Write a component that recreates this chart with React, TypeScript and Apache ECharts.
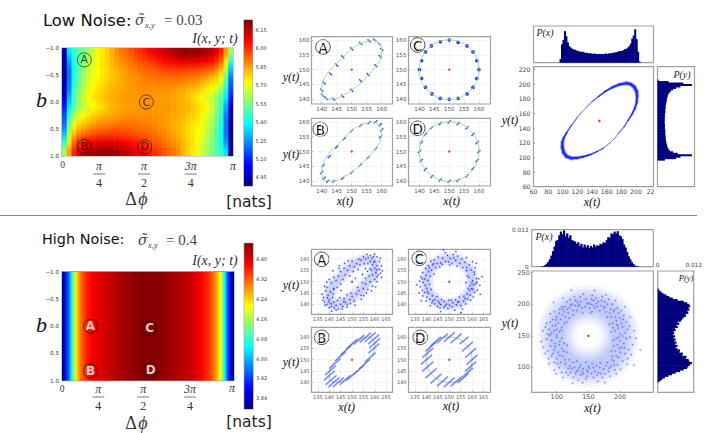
import React, { useRef, useEffect } from 'react';
import * as echarts from 'echarts';

// heatmap values, low noise: rows run from b = -1 (top) to b = 1, columns from 0 to pi
const lowNoiseInfo: number[][] = [
    [4.93, 5.35, 5.45, 5.5, 5.55, 5.6, 5.65, 5.7, 5.75, 5.78, 5.82, 5.87, 5.9, 5.92, 5.95, 5.98, 6.0, 6.03, 6.06, 6.08, 6.1, 6.12, 6.14, 6.16, 6.18, 6.2, 6.2, 6.2, 6.19, 6.18, 6.17, 6.15, 6.1, 6.02, 5.85, 5.6],
    [4.92, 5.25, 5.42, 5.5, 5.56, 5.62, 5.68, 5.73, 5.76, 5.79, 5.82, 5.85, 5.87, 5.89, 5.91, 5.93, 5.95, 5.97, 5.99, 6.01, 6.03, 6.05, 6.06, 6.08, 6.09, 6.1, 6.1, 6.1, 6.09, 6.08, 6.07, 6.05, 6.01, 5.93, 5.75, 5.45],
    [4.92, 5.2, 5.4, 5.5, 5.58, 5.64, 5.69, 5.72, 5.75, 5.77, 5.8, 5.82, 5.84, 5.86, 5.88, 5.89, 5.91, 5.92, 5.93, 5.94, 5.95, 5.96, 5.97, 5.97, 5.98, 5.98, 5.97, 5.97, 5.96, 5.95, 5.93, 5.91, 5.87, 5.8, 5.62, 5.3],
    [4.93, 5.2, 5.42, 5.52, 5.6, 5.66, 5.71, 5.74, 5.76, 5.78, 5.8, 5.82, 5.83, 5.85, 5.86, 5.87, 5.88, 5.89, 5.9, 5.9, 5.91, 5.91, 5.91, 5.91, 5.91, 5.9, 5.89, 5.88, 5.87, 5.85, 5.83, 5.8, 5.77, 5.7, 5.52, 5.2],
    [4.95, 5.22, 5.45, 5.55, 5.63, 5.69, 5.73, 5.76, 5.78, 5.8, 5.82, 5.83, 5.84, 5.85, 5.86, 5.86, 5.87, 5.87, 5.87, 5.87, 5.87, 5.87, 5.87, 5.86, 5.85, 5.84, 5.83, 5.82, 5.8, 5.78, 5.75, 5.72, 5.68, 5.6, 5.44, 5.15],
    [4.98, 5.28, 5.48, 5.58, 5.66, 5.71, 5.75, 5.78, 5.8, 5.82, 5.83, 5.84, 5.85, 5.86, 5.86, 5.86, 5.86, 5.87, 5.87, 5.86, 5.86, 5.85, 5.85, 5.84, 5.83, 5.82, 5.8, 5.77, 5.75, 5.72, 5.68, 5.64, 5.58, 5.5, 5.36, 5.08],
    [5.08, 5.36, 5.5, 5.58, 5.64, 5.68, 5.72, 5.75, 5.77, 5.8, 5.82, 5.83, 5.84, 5.85, 5.85, 5.86, 5.86, 5.87, 5.87, 5.86, 5.86, 5.86, 5.86, 5.85, 5.84, 5.83, 5.82, 5.8, 5.78, 5.75, 5.71, 5.66, 5.58, 5.48, 5.28, 4.98],
    [5.15, 5.44, 5.6, 5.68, 5.72, 5.75, 5.78, 5.8, 5.82, 5.83, 5.84, 5.85, 5.86, 5.87, 5.87, 5.87, 5.87, 5.87, 5.87, 5.87, 5.86, 5.86, 5.85, 5.84, 5.83, 5.82, 5.8, 5.78, 5.76, 5.73, 5.69, 5.63, 5.55, 5.45, 5.22, 4.95],
    [5.2, 5.52, 5.7, 5.77, 5.8, 5.83, 5.85, 5.87, 5.88, 5.89, 5.9, 5.91, 5.91, 5.91, 5.91, 5.91, 5.9, 5.9, 5.89, 5.88, 5.87, 5.86, 5.85, 5.83, 5.82, 5.8, 5.78, 5.76, 5.74, 5.71, 5.66, 5.6, 5.52, 5.42, 5.2, 4.93],
    [5.3, 5.62, 5.8, 5.87, 5.91, 5.93, 5.95, 5.96, 5.97, 5.97, 5.98, 5.98, 5.97, 5.97, 5.96, 5.95, 5.94, 5.93, 5.92, 5.91, 5.89, 5.88, 5.86, 5.84, 5.82, 5.8, 5.77, 5.75, 5.72, 5.69, 5.64, 5.58, 5.5, 5.4, 5.2, 4.92],
    [5.45, 5.75, 5.93, 6.01, 6.05, 6.07, 6.08, 6.09, 6.1, 6.1, 6.1, 6.09, 6.08, 6.06, 6.05, 6.03, 6.01, 5.99, 5.97, 5.95, 5.93, 5.91, 5.89, 5.87, 5.85, 5.82, 5.79, 5.76, 5.73, 5.68, 5.62, 5.56, 5.5, 5.42, 5.25, 4.92],
    [5.6, 5.85, 6.02, 6.1, 6.15, 6.17, 6.18, 6.19, 6.2, 6.2, 6.2, 6.18, 6.16, 6.14, 6.12, 6.1, 6.08, 6.06, 6.03, 6.0, 5.98, 5.95, 5.92, 5.9, 5.87, 5.82, 5.78, 5.75, 5.7, 5.65, 5.6, 5.55, 5.5, 5.45, 5.35, 4.93],
];

// high noise: hardly changes with b, so one row of columns
const highNoiseInfo: number[][] = [
    [3.83, 3.93, 4.07, 4.22, 4.30, 4.34, 4.37, 4.385, 4.395, 4.40, 4.41, 4.415, 4.42, 4.43, 4.435, 4.44, 4.445, 4.45, 4.455, 4.46, 4.46, 4.46, 4.46, 4.46, 4.455, 4.45, 4.445, 4.44, 4.435, 4.43, 4.425, 4.42, 4.41, 4.40, 4.39, 4.37, 4.35, 4.32, 4.27, 4.21, 4.05, 3.90, 3.82],
];

const jetColors = ['#00007f', '#0000ff', '#007fff', '#00ffff', '#7fff7f', '#ffff00', '#ff7f00', '#ff0000', '#7f0000'];

const lowColorTicks = [4.95, 5.1, 5.25, 5.4, 5.55, 5.7, 5.85, 6.0, 6.15];
const highColorTicks = [3.84, 3.92, 4.0, 4.08, 4.16, 4.24, 4.32, 4.4];
const bTicks = [-1, -0.5, 0, 0.5, 1];
const phaseTicks = [1, 2, 3];
const phaseFractions = [['π', '4'], ['π', '2'], ['3π', '4']];

// operating points on the heatmaps: [delta phi, b, name]
const lowMarkers: [number, number, string][] = [[0.41, -0.78, 'A'], [0.41, 0.82, 'B'], [1.55, 0, 'C'], [1.52, 0.83, 'D']];
const highMarkers: [number, number, string][] = [[0.52, 0, 'A'], [0.52, 0.82, 'B'], [1.6, 0.04, 'C'], [1.62, 0.81, 'D']];

const smallLowTicks = [140, 145, 150, 155, 160];
const smallHighTicks = [135, 140, 145, 150, 155, 160, 165];
const smallYTicks = [140, 145, 150, 155, 160];
const bigLowTicks = [60, 80, 100, 120, 140, 160, 180, 200, 220];
const bigHighTicks = [100, 150, 200];
const bigHighYTicks = [100, 150, 200, 250];

const center: [number, number][] = [[150, 150]];

// noiseless orbits
const orbitTilted: [number, number][] = [[157.5, 160], [159.2, 158.8], [160, 156.5], [159.5, 153.5], [157.5, 150.5], [154.5, 147], [151, 143.8], [147.5, 141.6], [144, 140.1], [141.5, 140.2], [140, 142.8], [140.5, 146], [143, 150], [146, 153], [150, 157], [153.5, 159], [157.5, 160]];
const orbitRound: [number, number][] = [[160, 150], [159.7, 152.6], [158.7, 155], [157.1, 157.1], [155, 158.7], [152.6, 159.7], [150, 160], [147.4, 159.7], [145, 158.7], [142.9, 157.1], [141.3, 155], [140.3, 152.6], [140, 150], [140.3, 147.4], [141.3, 145], [142.9, 142.9], [145, 141.3], [147.4, 140.3], [150, 140], [152.6, 140.3], [155, 141.3], [157.1, 142.9], [158.7, 145], [159.7, 147.4], [160, 150]];
const ringBig: [number, number][] = [[200, 150], [198.3, 162.9], [193.3, 175], [185.4, 185.4], [175, 193.3], [162.9, 198.3], [150, 200], [137.1, 198.3], [125, 193.3], [114.6, 185.4], [106.7, 175], [101.7, 162.9], [100, 150], [101.7, 137.1], [106.7, 125], [114.6, 114.6], [125, 106.7], [137.1, 101.7], [150, 100], [162.9, 101.7], [175, 106.7], [185.4, 114.6], [193.3, 125], [198.3, 137.1], [200, 150]];

// low noise samples
const lowSamplesA: [number, number][] = [[157.7, 160], [159.2, 158.7], [160, 156.8], [159.5, 154.4], [158, 151.3], [155.5, 148.3], [153, 146.2], [150, 143], [147, 141], [144, 140], [141.5, 140.3], [140.3, 141.3], [140, 143], [140.8, 145.5], [143, 148.5], [145, 151.5], [147, 154.3], [150, 157], [153, 158.8], [155.8, 159.7]];
const lowSamplesB: [number, number][] = [[155.8, 159.7], [158, 160], [159.5, 159], [160, 157.3], [159.6, 155], [158, 151], [155.5, 148], [153, 145.5], [150, 143], [147, 141], [144, 140], [142, 140], [140.8, 141], [140, 143], [140.5, 145.3], [142.5, 148.3], [145, 151.5], [147.5, 154.3], [150, 157], [153, 158.8]];
const lowSamplesC: [number, number][] = [[150, 160], [153, 159.2], [156, 158], [158, 156], [159.3, 153], [160, 150], [159.3, 147], [158, 144], [156, 141.8], [153, 140.3], [150, 140], [147, 140.3], [144.2, 141.8], [142, 144], [140.7, 147], [140, 150], [140.7, 153], [142, 156], [144, 158], [147, 159.4]];
const lowSamplesD: [number, number][] = [[150, 160], [153, 159.4], [156, 158], [158, 155.8], [159.4, 153], [160, 150], [159.4, 147], [158, 144.3], [156, 141.8], [153, 140.3], [150, 140], [147, 140.4], [144.2, 141.6], [142, 144], [140.6, 147], [140, 150], [140.6, 153], [142, 155.8], [144, 158], [147, 159.4]];

// big low noise orbit: [x, y, spread in px]
const lowOrbitBand: [number, number, number][] = [[187, 201.5, 3.5], [193, 200, 4], [198, 196, 4], [201, 190, 4], [201.5, 183, 3.6], [201, 175, 3], [198.5, 167, 2.6], [194, 158, 2.2], [189, 150, 1.7], [184, 142, 1.3], [177, 134, 1], [171, 126, 0.7], [164, 119.5, 0.6], [156, 113, 0.8], [147, 108, 1.2], [138, 104, 1.6], [128, 101, 2.2], [120, 99.5, 2.8], [112, 99, 3.4], [105, 101.5, 4], [101, 107, 4], [99.5, 114, 4], [99.5, 121, 3.6], [101.5, 127, 3], [105.5, 134, 2.2], [112, 144, 1.5], [119, 153.5, 1.1], [126, 162, 0.8], [133, 169.5, 0.6], [140, 176, 0.8], [148.5, 183, 1.2], [157, 189.5, 1.7], [167, 195.5, 2.2], [177, 199.5, 3], [187, 201.5, 3.5]];

// histograms, relative height per bin
const lowPx = [0, 0, 0, 0, 0, 0, 0, 0, 0, 0, 0, 0, 0, 0, 0, 0, 0, 0, 0.1, 0.5, 0.62, 0.86, 0.72, 0.55, 0.45, 0.41, 0.38, 0.36, 0.35, 0.33, 0.31, 0.31, 0.29, 0.3, 0.28, 0.27, 0.27, 0.25, 0.26, 0.25, 0.24, 0.25, 0.24, 0.23, 0.24, 0.23, 0.24, 0.23, 0.24, 0.25, 0.24, 0.25, 0.26, 0.26, 0.27, 0.28, 0.28, 0.3, 0.31, 0.32, 0.32, 0.34, 0.37, 0.38, 0.41, 0.45, 0.52, 0.66, 0.74, 0.91, 0.64, 0.3, 0.03, 0, 0, 0, 0, 0, 0, 0, 0, 0];
const lowPy = [0, 0, 0, 0, 0, 0, 0, 0, 0, 0, 0, 0, 0, 0, 0, 0, 0, 0, 0.2, 0.5, 0.62, 0.93, 0.55, 0.42, 0.33, 0.3, 0.28, 0.26, 0.26, 0.24, 0.24, 0.23, 0.22, 0.22, 0.22, 0.21, 0.21, 0.21, 0.21, 0.2, 0.2, 0.2, 0.2, 0.19, 0.19, 0.2, 0.19, 0.2, 0.2, 0.2, 0.21, 0.21, 0.21, 0.22, 0.22, 0.22, 0.23, 0.24, 0.25, 0.25, 0.26, 0.27, 0.28, 0.3, 0.33, 0.36, 0.42, 0.5, 0.62, 0.93, 0.7, 0.3, 0.03, 0, 0, 0, 0, 0, 0, 0, 0, 0];
const highPx = [0, 0, 0, 0, 0, 0, 0.01, 0.02, 0.04, 0.08, 0.13, 0.2, 0.3, 0.42, 0.55, 0.7, 0.72, 0.85, 0.95, 0.88, 0.98, 0.82, 0.9, 0.78, 0.85, 0.72, 0.7, 0.68, 0.62, 0.66, 0.56, 0.62, 0.52, 0.6, 0.52, 0.58, 0.5, 0.56, 0.52, 0.6, 0.54, 0.58, 0.56, 0.62, 0.6, 0.66, 0.64, 0.72, 0.8, 0.78, 0.9, 0.88, 0.95, 0.9, 0.96, 0.85, 0.82, 0.75, 0.6, 0.52, 0.4, 0.28, 0.2, 0.12, 0.07, 0.03, 0.02, 0.01, 0, 0, 0, 0, 0, 0, 0, 0, 0];
const highPy = [0, 0, 0, 0, 0, 0, 0.02, 0.08, 0.13, 0.2, 0.3, 0.4, 0.5, 0.62, 0.72, 0.82, 0.85, 0.9, 0.95, 0.88, 0.86, 0.78, 0.8, 0.68, 0.7, 0.6, 0.62, 0.55, 0.5, 0.55, 0.48, 0.52, 0.46, 0.5, 0.44, 0.48, 0.42, 0.46, 0.44, 0.5, 0.48, 0.56, 0.52, 0.6, 0.55, 0.65, 0.68, 0.72, 0.78, 0.78, 0.85, 0.82, 0.88, 0.85, 0.9, 0.88, 0.82, 0.72, 0.55, 0.42, 0.32, 0.24, 0.16, 0.1, 0.05, 0.02, 0, 0, 0, 0, 0, 0, 0, 0, 0, 0, 0];
const highDensityMax = 0.012;

// high noise samples
const highSamplesA: [number, number][] = [[139, 140], [141, 139], [143, 139.5], [140, 142], [138, 141], [142, 141], [144, 138], [140, 138.5], [137.5, 143], [139.5, 144], [141.5, 143], [138.5, 146], [143, 137.5], [145, 140], [146, 139], [141, 137], [136.8, 144.5], [139, 147.5], [140.5, 145.5], [142, 146.5], [138, 148], [147, 141], [148, 140], [146.5, 142.5], [149, 142], [150, 143.5], [151, 141.5], [152, 144.5], [149.5, 145], [153, 146], [154, 144], [152.5, 147.5], [155, 147], [156, 149], [154.5, 149.5], [157, 146.5], [156, 151.5], [158, 150], [159, 148], [157.5, 152.5], [160, 151], [159, 153], [161, 150], [160.5, 154], [158.5, 155], [161.5, 153], [162, 155.5], [160, 156], [159, 157.5], [161, 157], [163, 157], [160, 159], [162, 159], [158, 159], [159.5, 161], [157, 158], [156, 160], [158, 161.5], [155, 161], [154, 159.5], [161, 161], [156.5, 162], [153, 160], [152, 158], [153.5, 157.5], [150, 159], [151, 156.5], [149, 157], [148, 155], [150.5, 154.5], [146.5, 156], [147, 153], [145, 154.5], [149, 152.5], [146, 151], [144, 152.5], [143, 150.5], [145, 149], [142, 152], [141, 149.5], [143.5, 147.5], [140, 151], [142, 147], [139.8, 141], [140.8, 140.3], [142.2, 138.4], [138.2, 139.6], [143.6, 141.8], [144.6, 142.9], [141.7, 144.6], [139.2, 142.9], [137.2, 141.8], [145.6, 137.9], [147.8, 138.8], [146.4, 141.1], [149.3, 140.4], [157.9, 155.7], [159.6, 158.6], [160.8, 155.2], [162.6, 153.7], [158.8, 160.3], [157.1, 160.7], [155.4, 157.9], [162.4, 160.4], [159.9, 162.2], [163.4, 154.8], [155.9, 155.8], [154.6, 153.2], [156.8, 154.6], [151.4, 151.5], [148.3, 159.2], [144.4, 157], [141.6, 154.8], [152.7, 155.4], [154.1, 142.3], [156.3, 145], [158.6, 145.9], [160.4, 147.7], [155.2, 143.8], [147.9, 144.2], [151.3, 139.6], [145.2, 146.1], [138.9, 149.8], [144.2, 155.9], [146.7, 158.1], [160.9, 152.1], [163, 151.9]];
const highSamplesC: [number, number][] = [[160.2, 150.4], [158.6, 151.9], [161.7, 149.1], [162.9, 151.3], [159.1, 148.2], [161.1, 153.2], [157.9, 152.6], [163.4, 148.4], [160.4, 146.7], [158.2, 147.1], [159.5, 155.3], [157.6, 154.8], [161.4, 156.1], [155.9, 156.2], [158.8, 157.4], [156.9, 158.6], [160.2, 158.8], [154.6, 158.1], [155.6, 160.1], [153.4, 156.9], [157.6, 160.7], [152.8, 159.4], [151.2, 158], [153.7, 161.3], [150.4, 160.3], [151.7, 162], [149.2, 161.6], [148.4, 158.9], [150.2, 157.4], [147.1, 160.4], [146.2, 158.3], [148.2, 162.8], [145.1, 160.9], [144.6, 158.1], [143.4, 159.6], [145.8, 156.6], [142.7, 157.4], [141.9, 159], [144.1, 156.1], [140.8, 157.1], [142.2, 155.1], [139.6, 155.8], [140.9, 154.4], [143.2, 153.4], [138.4, 154], [139.8, 152.8], [141.7, 152.4], [137.6, 152.1], [139.2, 151.2], [140.6, 150.6], [136.9, 150.2], [138.5, 149.7], [141.4, 148.9], [139.4, 148.4], [137.2, 147.8], [140.1, 147.1], [138.2, 146.2], [142, 146.6], [139.1, 145.2], [136.8, 145.1], [141, 144.8], [140.2, 143.2], [138.4, 143.7], [142.6, 143.8], [141.4, 142.2], [139.8, 141.4], [143.7, 142.1], [142.4, 140.7], [144.6, 143.4], [143.6, 140.2], [145.1, 141.4], [141.6, 139.4], [144.8, 139.1], [146.6, 142.1], [146.2, 139.9], [147.7, 141.3], [145.9, 138.4], [148.8, 140.1], [147.6, 138.6], [149.8, 141.8], [150.1, 139.6], [149.4, 138.1], [151.6, 140.7], [151.2, 138.8], [152.8, 142], [153.1, 139.8], [152.4, 137.4], [154.2, 141.2], [155.1, 139.4], [154.4, 143.2], [156.3, 141.4], [155.8, 137.9], [157.2, 140.2], [156.4, 143.6], [158.1, 142.4], [157.8, 144.6], [159.4, 141.8], [159.1, 144.1], [160.6, 143.2], [158.9, 146.2], [161.2, 145.4], [160.8, 148.6], [162.4, 146.3], [159.9, 149.3], [157.3, 149.6], [161.9, 151.4], [157.7, 156.2], [160.9, 154.3], [152, 160.5], [149.7, 158.7], [146.9, 157.6], [143.1, 157.9], [141.2, 156.1], [138.1, 151.3], [140.4, 145.6], [142.8, 141.6], [145.7, 140.6], [148.2, 139.4], [150.9, 141.9], [153.7, 140.9], [156.9, 142.6], [159.7, 146.9], [162.1, 149.7], [135.8, 148.6], [147.4, 164.1], [152.9, 163.3], [164.4, 152.2], [146.3, 136.8], [155.2, 136.4], [137.7, 141.6], [163.6, 144.4], [161.8, 158.1]];

// diagonal streaks of the quantised high noise panels: [x1, y1, x2, y2]
const highStreaksB: [number, number, number, number][] = [[153.4, 157.6, 158.2, 161.8], [155.6, 157.9, 160.4, 162.1], [157.1, 156.9, 161.9, 161.1], [157.6, 155.2, 162.4, 159.4], [157.2, 152.9, 162, 157.1], [155.6, 148.9, 160.4, 153.1], [153.1, 145.9, 157.9, 150.1], [150.6, 143.4, 155.4, 147.6], [147.6, 140.9, 152.4, 145.1], [144.6, 138.9, 149.4, 143.1], [141.6, 137.9, 146.4, 142.1], [139.6, 137.9, 144.4, 142.1], [138.4, 138.9, 143.2, 143.1], [137.6, 140.9, 142.4, 145.1], [138.1, 143.2, 142.9, 147.4], [140.1, 146.2, 144.9, 150.4], [142.6, 149.4, 147.4, 153.6], [145.1, 152.2, 149.9, 156.4], [147.6, 154.9, 152.4, 159.1], [150.6, 156.7, 155.4, 160.9]];
const highStreaksD: [number, number, number, number][] = [[147.6, 157.9, 152.4, 162.1], [150.6, 157.3, 155.4, 161.5], [154.6, 156.9, 158.4, 160.1], [155.6, 153.7, 160.4, 157.9], [157, 150.9, 161.8, 155.1], [157.6, 147.9, 162.4, 152.1], [157, 144.9, 161.8, 149.1], [155.6, 142.2, 160.4, 146.4], [153.6, 139.7, 158.4, 143.9], [150.6, 138.2, 155.4, 142.4], [147.6, 137.9, 152.4, 142.1], [144.6, 138.3, 149.4, 142.5], [141.8, 139.5, 146.6, 143.7], [139.6, 141.9, 144.4, 146.1], [138.2, 144.9, 143, 149.1], [137.6, 147.9, 142.4, 152.1], [138.2, 150.9, 143, 155.1], [139.6, 153.7, 144.4, 157.9], [141.6, 155.9, 146.4, 160.1], [144.6, 157.3, 149.4, 161.5]];

// big high noise cloud
const highCloud: [number, number][] = [[200, 153], [192, 158], [208, 155], [197, 162], [212, 160], [186, 156], [204, 164], [222, 158], [195, 168], [202, 170], [194, 174], [210, 172], [188, 170], [200, 178], [206, 182], [183, 168], [216, 180], [193, 180], [198, 186], [186, 180], [180, 180], [190, 188], [196, 194], [202, 190], [178, 188], [185, 192], [208, 196], [188, 200], [174, 194], [180, 200], [168, 190], [176, 204], [170, 198], [182, 208], [164, 196], [172, 212], [160, 194], [166, 204], [156, 188], [162, 210], [154, 200], [158, 206], [152, 194], [156, 214], [151, 202], [160, 222], [153, 186], [155, 208], [197, 166], [189, 163], [205, 176], [191, 191], [176, 196], [184, 186], [171, 206], [163, 201], [158, 198], [215, 165], [178, 215], [193, 206],
    [148, 201], [140, 194], [146, 208], [136, 199], [142, 216], [132, 190], [138, 204], [128, 212], [134, 197], [124, 200], [130, 206], [120, 194], [126, 190], [116, 204], [122, 198], [112, 188], [118, 186], [108, 196], [114, 180], [110, 192], [104, 186], [120, 178], [100, 180], [106, 176], [96, 188], [102, 170], [112, 170], [94, 176], [98, 166], [108, 164], [90, 172], [100, 160], [88, 160], [96, 158], [104, 156], [82, 164], [92, 154], [100, 152], [86, 153], [78, 158], [145, 196], [137, 212], [129, 198], [121, 207], [113, 196], [105, 192], [99, 175], [93, 166], [84, 170], [109, 183], [117, 192], [133, 203], [141, 186], [126, 183], [116, 172], [107, 159], [90, 185], [123, 222], [110, 210], [95, 203],
    [100, 148], [92, 143], [108, 146], [84, 145], [97, 138], [76, 141], [104, 136], [90, 134], [112, 138], [96, 128], [86, 126], [102, 124], [108, 130], [92, 118], [100, 114], [82, 122], [110, 118], [96, 108], [106, 108], [88, 106], [116, 124], [104, 100], [114, 106], [96, 96], [120, 112], [108, 92], [118, 98], [110, 84], [126, 108], [118, 88], [128, 100], [122, 92], [132, 110], [126, 84], [134, 96], [130, 90], [138, 104], [134, 80], [142, 98], [138, 88], [146, 108], [142, 90], [148, 96], [146, 82], [150, 102], [148, 86], [98, 133], [89, 151], [105, 141], [94, 122], [101, 106], [113, 112], [121, 102], [131, 94], [140, 93], [136, 100], [124, 98], [115, 92], [105, 119], [111, 126], [79, 132], [87, 114], [99, 90], [125, 75], [141, 76], [117, 135],
    [152, 99], [160, 94], [156, 106], [164, 88], [158, 84], [168, 100], [166, 92], [172, 84], [174, 98], [176, 90], [180, 108], [182, 94], [186, 102], [184, 86], [190, 110], [192, 96], [196, 104], [194, 90], [188, 118], [198, 116], [204, 110], [200, 124], [192, 126], [208, 122], [186, 126], [202, 132], [212, 114], [196, 136], [206, 138], [214, 128], [190, 134], [200, 142], [210, 146], [220, 136], [194, 146], [204, 150], [216, 148], [198, 148], [225, 146], [158, 100], [170, 90], [178, 103], [183, 99], [191, 104], [199, 130], [194, 118], [163, 103], [155, 90], [176, 76], [201, 97], [211, 105], [218, 120], [189, 143], [207, 131], [165, 78], [149, 93], [169, 107], [187, 112], [232, 128], [222, 104]];

const txt = (x: number, y: number, text: string, font: string, fill = '#111', align = 'center') => ({
    type: 'text', x, y, silent: true,
    style: { text, font, fill, align, verticalAlign: 'middle' },
});

const serif = "'Liberation Serif'";
const sans = "'DejaVu Sans'";

const badge = (x: number, y: number, name: string) => ({
    type: 'group', silent: true,
    children: [
        { type: 'circle', shape: { cx: x, cy: y, r: 7.3 }, style: { fill: '#fff', stroke: '#222', lineWidth: 0.8 } },
        txt(x, y + 0.5, name, `13.5px ${sans}`),
    ],
});

const fraction = (cx: number, y: number, top: string, bottom: string) => ({
    type: 'group', silent: true,
    children: [
        txt(cx, y - 8, top, `italic 12px ${serif}`, '#333'),
        { type: 'line', shape: { x1: cx - 6, y1: y, x2: cx + 6, y2: y }, style: { stroke: '#555', lineWidth: 0.8 } },
        txt(cx, y + 9, bottom, `12px ${serif}`, '#333'),
    ],
});

// sigma with its tilde and subscript
const sigmaLabel = (x: number, y: number, rest: string, restX: number) => ({
    type: 'group', silent: true,
    children: [
        txt(x, y, 'σ̃', `italic 14px 'DejaVu Serif'`, '#444', 'left'),
        txt(x + 10, y + 5, 'x,y', `italic 8.5px ${serif}`, '#444', 'left'),
        txt(restX, y, rest, `15px ${serif}`, '#444', 'left'),
    ],
});

const deltaPhi = (x: number, y: number) => ({
    type: 'group', silent: true,
    children: [
        txt(x - 5, y, 'Δ', `18px ${serif}`, '#333'),
        txt(x + 7, y, 'ϕ', `italic 18px ${serif}`, '#333'),
    ],
});

const jet = (v: number, min: number, max: number) => echarts.color.lerp((v - min) / (max - min), jetColors);

const buildOption = () => {
    const grid: any[] = [];
    const xAxis: any[] = [];
    const yAxis: any[] = [];
    const series: any[] = [];

    const addGrid = (left: number, top: number, width: number, height: number) => {
        grid.push({ left, top, width, height, show: true, borderColor: '#a0a0a0', borderWidth: 1.2, backgroundColor: '#fff' });
        return grid.length - 1;
    };

    const tickAxis = (gridIndex: number, min: number, max: number, ticks: number[], fontSize: number, extra: any = {}) => ({
        type: 'value', gridIndex, min, max,
        axisLine: { show: false },
        axisTick: { inside: true, length: 1.5, customValues: ticks, lineStyle: { color: '#888', width: 0.6 } },
        axisLabel: { customValues: ticks, fontSize, color: '#555', margin: 2, fontFamily: 'DejaVu Sans' },
        splitLine: { show: false },
        ...extra,
    });

    const smallPanel = (left: number, top: number, w: number, h: number, xr: number[], yr: number[], xTicks: number[], fs: number) => {
        const g = addGrid(left, top, w, h);
        const split = { show: true, lineStyle: { color: '#eee', width: 0.6 } };
        xAxis.push(tickAxis(g, xr[0], xr[1], xTicks, fs, { splitLine: split }));
        yAxis.push(tickAxis(g, yr[0], yr[1], smallYTicks, fs, { splitLine: split }));
        return xAxis.length - 1;
    };

    const orbitLine = (i: number, data: [number, number][]) => series.push({
        type: 'line', xAxisIndex: i, yAxisIndex: i, data, smooth: true, symbol: 'none', silent: true,
        lineStyle: { color: '#a6d8a8', width: 1 },
    });
    // soft haze under the dense sample clouds
    const haze = (i: number, data: [number, number][], width: number, opacity: number) => series.push({
        type: 'line', xAxisIndex: i, yAxisIndex: i, data, smooth: true, symbol: 'none', silent: true,
        lineStyle: { color: '#2a3cf0', width, opacity },
    });
    const centerDot = (i: number, size = 2.4) => series.push({
        type: 'scatter', xAxisIndex: i, yAxisIndex: i, data: center, symbolSize: size, silent: true, z: 5,
        itemStyle: { color: '#f01010' },
    });
    const dashes = (i: number, data: [number, number][], rotate: number) => series.push({
        type: 'scatter', xAxisIndex: i, yAxisIndex: i, data, symbol: 'rect', symbolSize: [1.4, 4.4], symbolRotate: rotate, silent: true,
        itemStyle: { color: '#1a2de0' },
    });
    const dots = (i: number, data: [number, number][], size: number, opacity: number) => series.push({
        type: 'scatter', xAxisIndex: i, yAxisIndex: i, data, symbolSize: size, silent: true,
        itemStyle: { color: '#1a2de0', opacity },
    });
    const streaks = (i: number, data: [number, number, number, number][], width: number, opacity: number) => series.push({
        type: 'line', xAxisIndex: i, yAxisIndex: i, symbol: 'none', silent: true, connectNulls: false,
        data: data.flatMap(s => [[s[0], s[1]], [s[2], s[3]], null]),
        lineStyle: { color: '#2a3ce8', width, opacity },
    });

    // value table as vertical gradient columns, one row of values gives one horizontal gradient
    const heatPanel = (left: number, top: number, w: number, h: number, table: number[][], min: number, max: number, markers: [number, number, string][], white: boolean) => {
        const g = addGrid(left, top, w, h);
        xAxis.push(tickAxis(g, 0, Math.PI, phaseTicks, 6, { position: 'bottom', axisLabel: { show: false } }));
        yAxis.push(tickAxis(g, -1, 1, bTicks, 5.6, {
            inverse: true, position: 'left',
            axisLabel: {
                customValues: bTicks, fontSize: 5.6, color: '#333', margin: 3, fontFamily: 'DejaVu Sans',
                formatter: (v: number) => v.toFixed(1).replace('-', '−'),
            },
        }));
        const i = xAxis.length - 1;
        const cols = table[0].length;
        const step = Math.PI / cols;
        const single = table.length === 1;
        const cells = single ? [[0, Math.PI]] : table[0].map((_, c) => [c * step, (c + 1) * step]);
        series.push({
            type: 'custom', xAxisIndex: i, yAxisIndex: i, silent: true, clip: true, z: 1,
            data: cells,
            encode: { x: [0, 1] },
            renderItem: (params: any, api: any) => {
                const a = api.coord([api.value(0), -1]);
                const b = api.coord([api.value(1), 1]);
                const stops = single
                    ? table[0].map((v, c) => ({ offset: (c + 0.5) / cols, color: jet(v, min, max) }))
                    : table.map((row, r) => ({ offset: (r + 0.5) / table.length, color: jet(row[params.dataIndex], min, max) }));
                const fill = single
                    ? new echarts.graphic.LinearGradient(0, 0, 1, 0, stops)
                    : new echarts.graphic.LinearGradient(0, 0, 0, 1, stops);
                return { type: 'rect', shape: { x: a[0], y: a[1], width: b[0] - a[0] + 0.6, height: b[1] - a[1] }, style: { fill } };
            },
        });
        series.push({
            type: 'scatter', xAxisIndex: i, yAxisIndex: i, silent: true, z: 6, symbolSize: 14,
            data: markers.map(m => ({ value: [m[0], m[1]], name: m[2] })),
            itemStyle: { color: 'rgba(0,0,0,0)', borderColor: '#111', borderWidth: 0.8 },
            label: {
                show: true, position: 'inside', formatter: '{b}', fontFamily: 'DejaVu Sans',
                fontSize: white ? 12 : 11, fontWeight: white ? 'bold' : 'normal', color: white ? '#fff' : '#111',
            },
        });
    };

    const colorBar = (left: number, top: number, w: number, h: number, min: number, max: number, ticks: number[]) => {
        const g = addGrid(left, top, w, h);
        xAxis.push({ type: 'category', gridIndex: g, show: false, data: [''] });
        yAxis.push(tickAxis(g, min, max, ticks, 5, {
            position: 'right',
            axisLabel: { customValues: ticks, fontSize: 5, color: '#333', margin: 3, fontFamily: 'DejaVu Sans', formatter: (v: number) => v.toFixed(2) },
        }));
        const i = xAxis.length - 1;
        series.push({
            type: 'bar', xAxisIndex: i, yAxisIndex: i, data: [max], barWidth: '100%', silent: true,
            itemStyle: {
                color: {
                    type: 'linear', x: 0, y: 1, x2: 0, y2: 0,
                    colorStops: jetColors.map((color, k) => ({ offset: k / (jetColors.length - 1), color })),
                },
            },
        });
    };

    const histAxis = (g: number, labelled: boolean, pad: number[], extra: any) => {
        const max = labelled ? highDensityMax : 1;
        return tickAxis(g, 0, max, labelled ? [0, max] : [0.25, 0.5, 0.75], 6.2, {
            axisLabel: {
                show: labelled, customValues: [0, max], fontSize: 5.8, color: '#444', margin: 3, fontFamily: 'DejaVu Sans',
                padding: pad,
                formatter: (v: number) => (v === 0 ? '0' : String(max)),
            },
            ...extra,
        });
    };

    const histBars = (i: number, values: number[], labelled: boolean) => series.push({
        type: 'bar', xAxisIndex: i, yAxisIndex: i, silent: true, barWidth: '140%',
        data: values.map(v => v * (labelled ? highDensityMax : 1)),
        itemStyle: { color: '#00007f' },
    });

    const histTop = (left: number, top: number, w: number, h: number, values: number[], start: number, step: number, labelled: boolean) => {
        const g = addGrid(left, top, w, h);
        xAxis.push({ type: 'category', gridIndex: g, show: false, data: values.map((_, k) => start + k * step) });
        yAxis.push(histAxis(g, labelled, [0, 0, 6, 0], {}));
        histBars(xAxis.length - 1, values, labelled);
    };

    const histRight = (left: number, top: number, w: number, h: number, values: number[], start: number, step: number, labelled: boolean) => {
        const g = addGrid(left, top, w, h);
        yAxis.push({ type: 'category', gridIndex: g, show: false, data: values.map((_, k) => start + k * step) });
        xAxis.push(histAxis(g, labelled, [0, 0, 0, 0], { position: 'top' }));
        histBars(xAxis.length - 1, values, labelled);
    };

    // low noise row
    heatPanel(62, 48, 171, 108, lowNoiseInfo, 4.88, 6.23, lowMarkers, false);
    colorBar(244, 20, 8.5, 166, 4.88, 6.23, lowColorTicks);

    const lowA = smallPanel(311.5, 36.7, 81, 67.3, [136.6, 163.6], [138.4, 161.1], smallLowTicks, 5.6);
    orbitLine(lowA, orbitTilted); dashes(lowA, lowSamplesA, 45); centerDot(lowA);
    const lowC = smallPanel(408.5, 36.7, 82, 67.3, [136.3, 163.9], [138.4, 161.1], smallLowTicks, 5.6);
    orbitLine(lowC, orbitRound); dots(lowC, lowSamplesC, 3.6, 1); centerDot(lowC);
    const lowB = smallPanel(311.5, 118.3, 81, 67.7, [136.6, 163.6], [138.4, 161.2], smallLowTicks, 5.6);
    orbitLine(lowB, orbitTilted); dashes(lowB, lowSamplesB, -45); centerDot(lowB);
    const lowD = smallPanel(408.5, 118.3, 82, 67.7, [136.3, 163.9], [138.4, 161.2], smallLowTicks, 5.6);
    orbitLine(lowD, orbitRound); dashes(lowD, lowSamplesD, -45); centerDot(lowD);

    const gBigLow = addGrid(533.5, 66.7, 120, 120);
    xAxis.push(tickAxis(gBigLow, 60, 224, bigLowTicks, 6.2, {
        axisLabel: {
            customValues: bigLowTicks, fontSize: 6.2, color: '#444', margin: 2, fontFamily: 'DejaVu Sans',
            formatter: (v: number) => (v === 220 ? '22' : String(v)),
        },
    }));
    yAxis.push(tickAxis(gBigLow, 60, 224, bigLowTicks, 6.2, { axisLabel: { customValues: bigLowTicks, fontSize: 6.2, color: '#444', margin: 3, fontFamily: 'DejaVu Sans' } }));
    const bigLow = xAxis.length - 1;
    lowOrbitBand.slice(1).forEach((p, k) => {
        const q = lowOrbitBand[k];
        series.push({
            type: 'line', xAxisIndex: bigLow, yAxisIndex: bigLow, symbol: 'none', silent: true, z: 2,
            data: [[q[0], q[1]], [p[0], p[1]]],
            lineStyle: { color: '#a9afff', width: p[2] * 1.15, cap: 'round' },
        });
    });
    lowOrbitBand.slice(1).forEach((p, k) => {
        const q = lowOrbitBand[k];
        series.push({
            type: 'line', xAxisIndex: bigLow, yAxisIndex: bigLow, symbol: 'none', silent: true, z: 3,
            data: [[q[0], q[1]], [p[0], p[1]]],
            lineStyle: { color: '#1f2bf0', width: p[2] * 0.65, cap: 'round' },
        });
    });
    centerDot(bigLow, 2.6);

    histTop(533.5, 26, 120, 36.7, lowPx, 60, 2, false);
    histRight(657.5, 66.7, 37, 120, lowPy, 60, 2, false);

    // high noise row
    heatPanel(62, 271.7, 172, 109, highNoiseInfo, 3.797, 4.4645, highMarkers, true);
    colorBar(244.3, 243.3, 8.7, 165.7, 3.797, 4.4645, highColorTicks);

    const highA = smallPanel(311.5, 249.3, 81, 65, [132.2, 167.8], [135.6, 164.3], smallHighTicks, 5);
    haze(highA, orbitTilted, 13, 0.1); haze(highA, orbitTilted, 7, 0.14);
    dots(highA, highSamplesA, 2.6, 0.2); dots(highA, highSamplesA, 1.2, 0.95); centerDot(highA);
    const highC = smallPanel(408.5, 249.3, 82, 65, [132.1, 168.1], [135.6, 164.3], smallHighTicks, 5);
    haze(highC, orbitRound, 13, 0.1); haze(highC, orbitRound, 7, 0.14);
    dots(highC, highSamplesC, 2.6, 0.2); dots(highC, highSamplesC, 1.2, 0.95); centerDot(highC);
    const highB = smallPanel(311.5, 327.3, 81, 65, [132.2, 167.8], [135.6, 164.3], smallHighTicks, 5);
    orbitLine(highB, orbitTilted); streaks(highB, highStreaksB, 2.4, 0.25); streaks(highB, highStreaksB, 0.8, 0.85); centerDot(highB);
    const highD = smallPanel(408.5, 327.3, 82, 65, [132.1, 168.1], [135.6, 164.3], smallHighTicks, 5);
    orbitLine(highD, orbitRound); streaks(highD, highStreaksD, 2.4, 0.25); streaks(highD, highStreaksD, 0.8, 0.85); centerDot(highD);

    const gBigHigh = addGrid(531.7, 271, 121.6, 121.3);
    xAxis.push(tickAxis(gBigHigh, 60.5, 252.6, bigHighTicks, 6.4));
    yAxis.push(tickAxis(gBigHigh, 60.7, 252.6, bigHighYTicks, 6.4));
    const bigHigh = xAxis.length - 1;
    haze(bigHigh, ringBig, 40, 0.035); haze(bigHigh, ringBig, 35, 0.04); haze(bigHigh, ringBig, 30, 0.05);
    haze(bigHigh, ringBig, 25, 0.06); haze(bigHigh, ringBig, 20, 0.06); haze(bigHigh, ringBig, 15, 0.06);
    dots(bigHigh, highCloud, 3, 0.12);
    dots(bigHigh, highCloud, 1.2, 0.55);
    centerDot(bigHigh, 2.6);

    histTop(531.7, 229.7, 121.6, 37, highPx, 60, 2.5, true);
    histRight(657.7, 271, 37.6, 121.3, highPy, 60, 2.5, true);

    const math = `italic 12px ${serif}`;
    const graphic = [
        { type: 'line', shape: { x1: 0, y1: 215.5, x2: 697, y2: 215.5 }, style: { stroke: '#888', lineWidth: 1 }, silent: true },

        txt(43, 20, 'Low Noise:', `16.4px ${sans}`, '#111', 'left'),
        sigmaLabel(135, 20, '= 0.03', 164),
        txt(215, 38.5, 'I(x, y; t)', `italic 14px ${serif}`, '#333'),
        txt(41.5, 99, 'b', `italic 22px ${serif}`),
        deltaPhi(136, 199),
        txt(249, 201.5, '[nats]', `15.5px ${sans}`, '#222'),
        txt(62.5, 165, '0', `9.5px ${serif}`, '#333'),
        txt(233, 166, 'π', `italic 12px ${serif}`, '#333'),
        fraction(99, 174, phaseFractions[0][0], phaseFractions[0][1]),
        fraction(144, 174, phaseFractions[1][0], phaseFractions[1][1]),
        fraction(190.7, 174, phaseFractions[2][0], phaseFractions[2][1]),

        txt(42, 239, 'High Noise:', `14.4px ${sans}`, '#111', 'left'),
        sigmaLabel(138, 240, '= 0.4', 166),
        txt(215, 260.5, 'I(x, y; t)', `italic 14px ${serif}`, '#333'),
        txt(41.5, 324, 'b', `italic 22px ${serif}`),
        deltaPhi(136, 423),
        txt(249, 422, '[nats]', `15.5px ${sans}`, '#222'),
        txt(62, 388.5, '0', `9.5px ${serif}`, '#333'),
        txt(232, 388, 'π', `italic 12px ${serif}`, '#333'),
        fraction(98.3, 397, phaseFractions[0][0], phaseFractions[0][1]),
        fraction(143.3, 397, phaseFractions[1][0], phaseFractions[1][1]),
        fraction(190, 397, phaseFractions[2][0], phaseFractions[2][1]),

        badge(323, 47, 'A'), badge(417.7, 45, 'C'), badge(320.3, 129.3, 'B'), badge(417.7, 128.3, 'D'),
        badge(321.7, 259.3, 'A'), badge(419.3, 258.3, 'C'), badge(321.7, 337.3, 'B'), badge(420.3, 337.3, 'D'),

        txt(291, 77, 'y(t)', math), txt(291, 154, 'y(t)', math), txt(510, 120, 'y(t)', math),
        txt(345, 201, 'x(t)', math), txt(451.7, 201, 'x(t)', math), txt(592, 202, 'x(t)', math),
        txt(291, 285, 'y(t)', math), txt(291, 362, 'y(t)', math), txt(510, 323, 'y(t)', math),
        txt(346.7, 407, 'x(t)', math), txt(451, 406, 'x(t)', math), txt(592.3, 407.5, 'x(t)', math),

        txt(545, 32, 'P(x)', `italic 10px ${serif}`, '#222'),
        txt(682, 74, 'P(y)', `italic 10px ${serif}`, '#222'),
        txt(544, 236, 'P(x)', `italic 10px ${serif}`, '#222'),
        txt(686, 278, 'P(y)', `italic 8.5px ${serif}`, '#222'),
    ];

    return {
        animation: false,
        textStyle: { fontFamily: 'DejaVu Sans' },
        grid, xAxis, yAxis, series, graphic,
    };
};

const App: React.FC = () => {
    const chartRef = useRef<HTMLDivElement>(null);

    useEffect(() => {
        if (!chartRef.current) return;
        const chart = echarts.init(chartRef.current, null, { renderer: 'svg' });
        chart.setOption(buildOption() as any);
        return () => chart.dispose();
    }, []);

    return <div ref={chartRef} style={{ position: 'fixed', left: 0, top: 0, width: 705, height: 433, background: '#fff' }} />;
};

export default App;
